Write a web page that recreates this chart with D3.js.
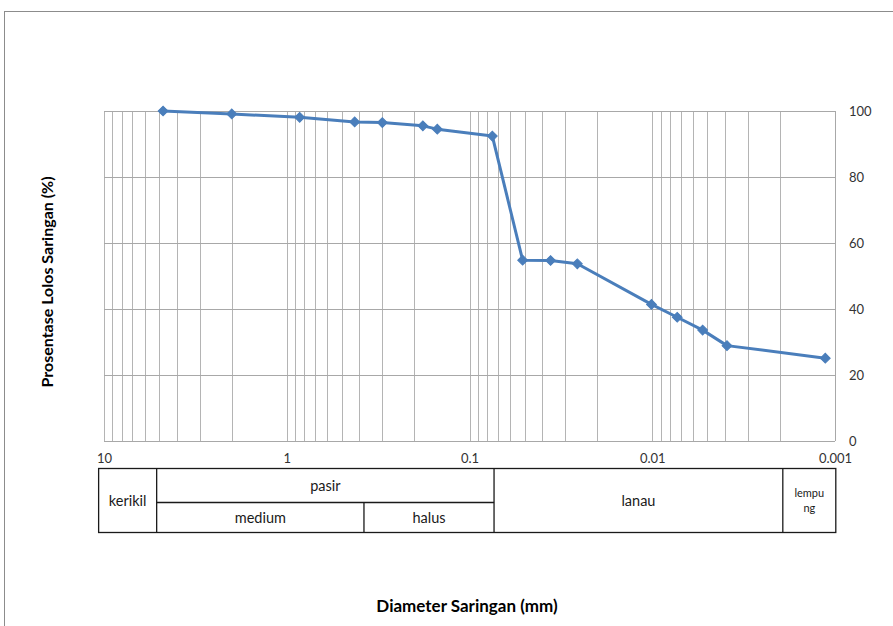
<!DOCTYPE html>
<html><head><meta charset="utf-8">
<script src="https://cdn.jsdelivr.net/npm/d3@7"></script>
<style>
html,body{margin:0;padding:0;background:#fff;}
svg{display:block;font-family:Lato,"Open Sans",sans-serif;}
</style></head>
<body><svg id="c" width="893" height="626"></svg>
<script>
// ---- data ----
const diameters = [4.75, 2.0, 0.85, 0.425, 0.3, 0.18, 0.15, 0.075, 0.0512, 0.036, 0.0257, 0.0101, 0.0073, 0.0053, 0.0039, 0.00113];
const passing   = [100, 99.1, 98.1, 96.7, 96.5, 95.5, 94.5, 92.4, 54.8, 54.7, 53.7, 41.4, 37.5, 33.6, 28.9, 25.1];
const xTickValues = [10, 1, 0.1, 0.01, 0.001];
const xTickLabels = ["10", "1", "0.1", "0.01", "0.001"];
const yTickValues = [0, 20, 40, 60, 80, 100];
// soil classification table (boundaries in mm)
const classBounds = [10.7, 5.15, 0.378, 0.0734, 0.00193, 0.00099];
const topRow = [
  {label: "kerikil", from: 0, to: 1, span: true},
  {label: "pasir", from: 1, to: 3, span: false},
  {label: "lanau", from: 3, to: 4, span: true},
  {label: ["lempu", "ng"], from: 4, to: 5, span: true, small: true}
];
const subRow = [
  {label: "medium", from: 1, to: 2},
  {label: "halus", from: 2, to: 3}
];
const xTitle = "Diameter Saringan (mm)";
const yTitle = "Prosentase Lolos Saringan (%)";

// ---- layout ----
const svg = d3.select("#c");
const L = 104, R = 835, T = 111, B = 441;
const x = d3.scaleLog().domain([10, 0.001]).range([L, R]);
const y = d3.scaleLinear().domain([0, 100]).range([B, T]);
const gridCol = "#b4b4b4";
const blue = "#4a7ebb";

// outer chart frame (only top & left visible)
svg.append("rect").attr("x", 4.5).attr("y", 11.5).attr("width", 1000).attr("height", 1000)
  .attr("fill", "none").attr("stroke", "#8c8c8c").attr("stroke-width", 1);

// vertical grid (log minor)
const vgrid = x.ticks();
svg.append("g").selectAll("line").data(vgrid).join("line")
  .attr("x1", d => Math.round(x(d)) + 0.5).attr("x2", d => Math.round(x(d)) + 0.5)
  .attr("y1", T).attr("y2", B)
  .attr("stroke", gridCol).attr("stroke-width", 1);
// horizontal grid
svg.append("g").selectAll("line").data(yTickValues).join("line")
  .attr("x1", L).attr("x2", R)
  .attr("y1", d => Math.round(y(d)) + 0.5).attr("y2", d => Math.round(y(d)) + 0.5)
  .attr("stroke", "#a8a8a8").attr("stroke-width", 1);
svg.append("line").attr("x1", R + 0.5).attr("x2", R + 0.5).attr("y1", T).attr("y2", B)
  .attr("stroke", "#a8a8a8");

// right y axis
const yAxis = svg.append("g").attr("transform", `translate(${R},0)`)
  .call(d3.axisRight(y).tickValues(yTickValues).tickSize(0).tickPadding(14));
yAxis.select(".domain").remove();
yAxis.selectAll("text").attr("font-size", 13).attr("fill", "#333").attr("font-family", "Lato,sans-serif");

// bottom x axis labels
const xAxis = svg.append("g").attr("transform", `translate(0,${B})`)
  .call(d3.axisBottom(x).tickValues(xTickValues).tickFormat((d, i) => xTickLabels[i]).tickSize(0).tickPadding(13));
xAxis.select(".domain").remove();
xAxis.selectAll("text").attr("font-size", 13).attr("fill", "#333").attr("font-family", "Lato,sans-serif");

// data line
const line = d3.line().x((d, i) => x(diameters[i])).y(d => y(d));
svg.append("path").datum(passing).attr("d", line)
  .attr("fill", "none").attr("stroke", blue).attr("stroke-width", 3).attr("stroke-linejoin", "round");
svg.append("g").selectAll("path").data(passing).join("path")
  .attr("d", d3.symbol().type(d3.symbolSquare).size(48))
  .attr("transform", (d, i) => `translate(${x(diameters[i])},${y(d)}) rotate(45)`)
  .attr("fill", blue).attr("stroke", blue).attr("stroke-width", 1);

// classification table
const tTop = 468.5, tMid = 502.5, tBot = 532.5;
const tg = svg.append("g").attr("stroke", "#1a1a1a").attr("stroke-width", 1.3).attr("fill", "none");
const bx = i => x(classBounds[i]);
tg.append("rect").attr("x", bx(0)).attr("y", tTop).attr("width", bx(5) - bx(0)).attr("height", tBot - tTop);
[1, 3, 4].forEach(i => tg.append("line").attr("x1", bx(i)).attr("x2", bx(i)).attr("y1", tTop).attr("y2", tBot));
tg.append("line").attr("x1", bx(1)).attr("x2", bx(3)).attr("y1", tMid).attr("y2", tMid);
tg.append("line").attr("x1", bx(2)).attr("x2", bx(2)).attr("y1", tMid).attr("y2", tBot);

const txt = svg.append("g").attr("fill", "#1a1a1a").attr("text-anchor", "middle").attr("font-family", "Lato,sans-serif");
topRow.forEach(c => {
  const cx = (bx(c.from) + bx(c.to)) / 2;
  if (Array.isArray(c.label)) {
    c.label.forEach((s, k) => txt.append("text").attr("x", cx).attr("y", 497 + k * 15)
      .attr("font-size", 11).text(s));
  } else {
    const cy = c.span ? (tTop + tBot) / 2 : (tTop + tMid) / 2;
    txt.append("text").attr("x", cx).attr("y", cy).attr("dy", "0.35em").attr("font-size", 14.5).text(c.label);
  }
});
subRow.forEach(c => {
  const cx = (bx(c.from) + bx(c.to)) / 2;
  txt.append("text").attr("x", cx).attr("y", (tMid + tBot) / 2).attr("dy", "0.35em").attr("font-size", 14.5).text(c.label);
});

// titles
svg.append("text").attr("x", 467).attr("y", 612).attr("text-anchor", "middle")
  .attr("font-size", 17).attr("font-weight", "bold").attr("fill", "#000").text(xTitle);
svg.append("text").attr("transform", "translate(53,282) rotate(-90)").attr("text-anchor", "middle")
  .attr("font-size", 16).attr("font-weight", "bold").attr("fill", "#000").text(yTitle);
</script></body></html>
